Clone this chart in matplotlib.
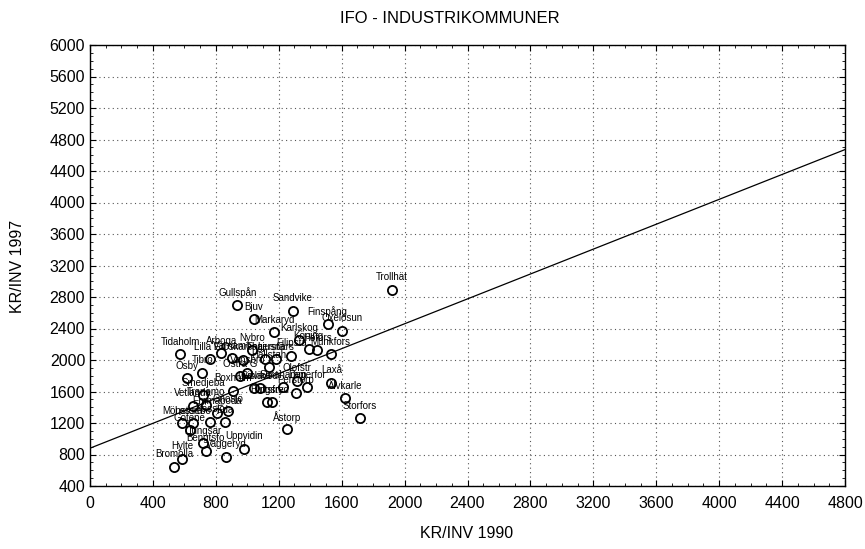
import numpy as np
import matplotlib
matplotlib.use("Agg")
import matplotlib.pyplot as plt
from matplotlib.ticker import MultipleLocator

plt.rcParams['font.family'] = ['Liberation Sans', 'DejaVu Sans']

# kommuner, KR/INV 1990 och 1997
names = ["Gullspån", "Bjuv", "Markaryd", "Sandvike", "Finspång", "Oxelösun",
         "Karlskog", "Köping", "Hofors", "Munkfors", "Filipsta", "Trollhät",
         "Tidaholm", "Arboga", "Lilla Ed", "Värnamo", "Nybro", "Fagersta",
         "Ljusnars", "Hallstah", "Oskarsha", "Tibro", "Osby", "Östra G",
         "Vansbro", "Olofstr", "Laxå", "Älvkarle", "Storfors", "Åstorp",
         "Perstorp", "Degerfor", "Surahamm", "Ludvika", "Gislaved", "Hultsfre",
         "Tingsryd", "Boxholm", "Smedjeba", "Vetlanda", "Tranemo", "Gnosjö",
         "Emmaboda", "Mönsterå", "Lessebo", "Nässjö", "Eda", "Götene",
         "Ljungsär", "Bengtsfo", "Uppvidin", "Vaggeryd", "Hylte", "Bromölla"]
kr1990 = [936, 1040, 1170, 1290, 1510, 1600,
          1330, 1390, 1445, 1530, 1280, 1920,
          575, 835, 765, 905, 1030, 1115,
          1180, 1140, 970, 715, 615, 955,
          1000, 1315, 1535, 1620, 1715, 1255,
          1310, 1380, 1230, 1040, 1080, 1125,
          1155, 910, 720, 655, 740, 875,
          810, 585, 655, 765, 860, 635,
          720, 735, 980, 865, 585, 535]
kr1997 = [2700, 2520, 2350, 2625, 2455, 2370,
          2250, 2145, 2125, 2075, 2055, 2890,
          2070, 2085, 2010, 2020, 2125, 2010,
          2010, 1905, 2000, 1835, 1770, 1795,
          1840, 1735, 1710, 1515, 1260, 1120,
          1585, 1655, 1655, 1640, 1640, 1465,
          1465, 1610, 1550, 1420, 1430, 1350,
          1325, 1200, 1200, 1215, 1210, 1110,
          940, 850, 875, 770, 745, 645]

# regressionslinje
fit_intercept = 880
fit_slope = 0.79

xticks = np.arange(0, 4801, 400)
yticks = np.arange(400, 6001, 400)

fig = plt.figure(figsize=(8.65, 5.49), dpi=100)
ax = fig.add_axes([90 / 865, 1 - 486 / 549, 755 / 865, 441 / 549])

xl = np.array([0, 4800])
ax.plot(xl, fit_intercept + fit_slope * xl, color='black', lw=0.9, zorder=2)
ax.plot(kr1990, kr1997, 'o', mfc='none', mec='black', ms=6.6, mew=1.3, zorder=3)
for n, x, y in zip(names, kr1990, kr1997):
    ax.annotate(n, (x, y), xytext=(0, 9), textcoords='offset points',
                ha='center', va='center', fontsize=7, zorder=4)

ax.set_xlim(0, 4800)
ax.set_ylim(400, 6000)
ax.set_xticks(xticks)
ax.set_yticks(yticks)
ax.xaxis.set_minor_locator(MultipleLocator(100))
ax.yaxis.set_minor_locator(MultipleLocator(100))
ax.tick_params(which='both', direction='in', top=True, right=True, labelsize=11.5)
ax.tick_params(which='major', length=4, width=0.8)
ax.tick_params(which='minor', length=2.5, width=0.6)
ax.tick_params(axis='x', pad=7)
ax.grid(True, which='major', linestyle=(0, (1, 3)), color='#555555', lw=0.8)
for s in ax.spines.values():
    s.set_linewidth(1.0)

fig.text(0.52, 0.967, "IFO - INDUSTRIKOMMUNER", ha='center', va='center', fontsize=12)
fig.text(467 / 865, 1 - 533 / 549, "KR/INV 1990", ha='center', va='center', fontsize=11.5)
fig.text(18 / 865, 1 - 266 / 549, "KR/INV 1997", ha='center', va='center',
         rotation=90, fontsize=11.5)

fig.savefig("out.png", dpi=100)
